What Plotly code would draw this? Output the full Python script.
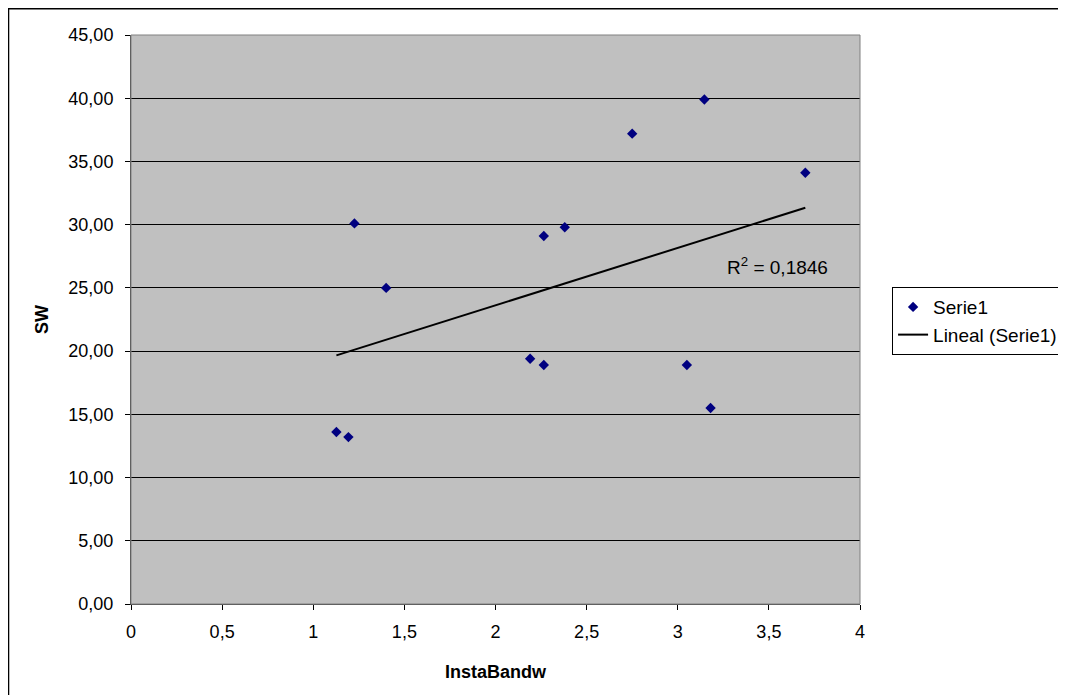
import numpy as np
import plotly.graph_objects as go

insta_bandw = [1.127, 1.193, 1.226, 1.40, 2.19, 2.265, 2.265, 2.38, 2.75, 3.146, 3.05, 3.18, 3.70]
sw = [13.6, 13.2, 30.1, 25.0, 19.4, 18.9, 29.1, 29.8, 37.2, 39.9, 18.9, 15.5, 34.1]
r2_label = "R<sup>2</sup> = 0,1846"

x = np.array(insta_bandw)
y = np.array(sw)
slope, intercept = np.polyfit(x, y, 1)
tx = [x.min(), x.max()]
ty = [slope * v + intercept for v in tx]

font = "Liberation Sans, Arial, sans-serif"

fig = go.Figure()
fig.add_trace(go.Scatter(
    x=insta_bandw, y=sw, mode="markers", name="Serie1",
    marker=dict(symbol="diamond", color="#000080", size=8),
))
fig.add_trace(go.Scatter(
    x=tx, y=ty, mode="lines", name="Lineal (Serie1)",
    line=dict(color="black", width=2),
))

fig.add_annotation(x=3.26, y=26.7, xref="x", yref="y", text=r2_label,
                   showarrow=False, xanchor="left", yanchor="middle",
                   font=dict(family=font, size=19, color="black"))

# outer chart border
fig.add_shape(type="rect", xref="paper", yref="paper",
              x0=-0.168, x1=1.6, y0=-0.4, y1=1.046,
              line=dict(color="black", width=1.5), layer="below")

fig.update_layout(
    width=1058, height=687,
    margin=dict(l=123, r=206, t=27, b=91, autoexpand=False),
    paper_bgcolor="white", plot_bgcolor="#C0C0C0",
    separators=",.",
    font=dict(family=font, size=18, color="black"),
    showlegend=True,
    legend=dict(x=1.044, y=0.557, xanchor="left", yanchor="top",
                bgcolor="white", bordercolor="black", borderwidth=1,
                font=dict(family=font, size=19), tracegroupgap=0,
                itemwidth=30),
    xaxis=dict(range=[0, 4], dtick=0.5, tick0=0, showgrid=False, zeroline=False,
               showline=True, linecolor="#404040", linewidth=1, mirror=False,
               ticks="outside", ticklen=5, tickcolor="black", ticklabelstandoff=6,
               title=dict(text="<b>InstaBandw</b>", font=dict(family=font, size=18), standoff=24),
               tickfont=dict(family=font, size=18)),
    yaxis=dict(range=[0, 45], dtick=5, tick0=0, tickformat=".2f",
               showgrid=True, gridcolor="black", gridwidth=1, zeroline=False,
               showline=True, linecolor="#404040", linewidth=1,
               ticks="outside", ticklen=5, tickcolor="black", ticklabelstandoff=8,
               title=dict(text="<b>SW</b>", font=dict(family=font, size=18), standoff=15),
               tickfont=dict(family=font, size=18)),
)
fig.add_shape(type="rect", xref="paper", yref="paper", x0=0, x1=1, y0=0, y1=1,
              line=dict(color="#808080", width=1))

fig.write_html("out.html")
